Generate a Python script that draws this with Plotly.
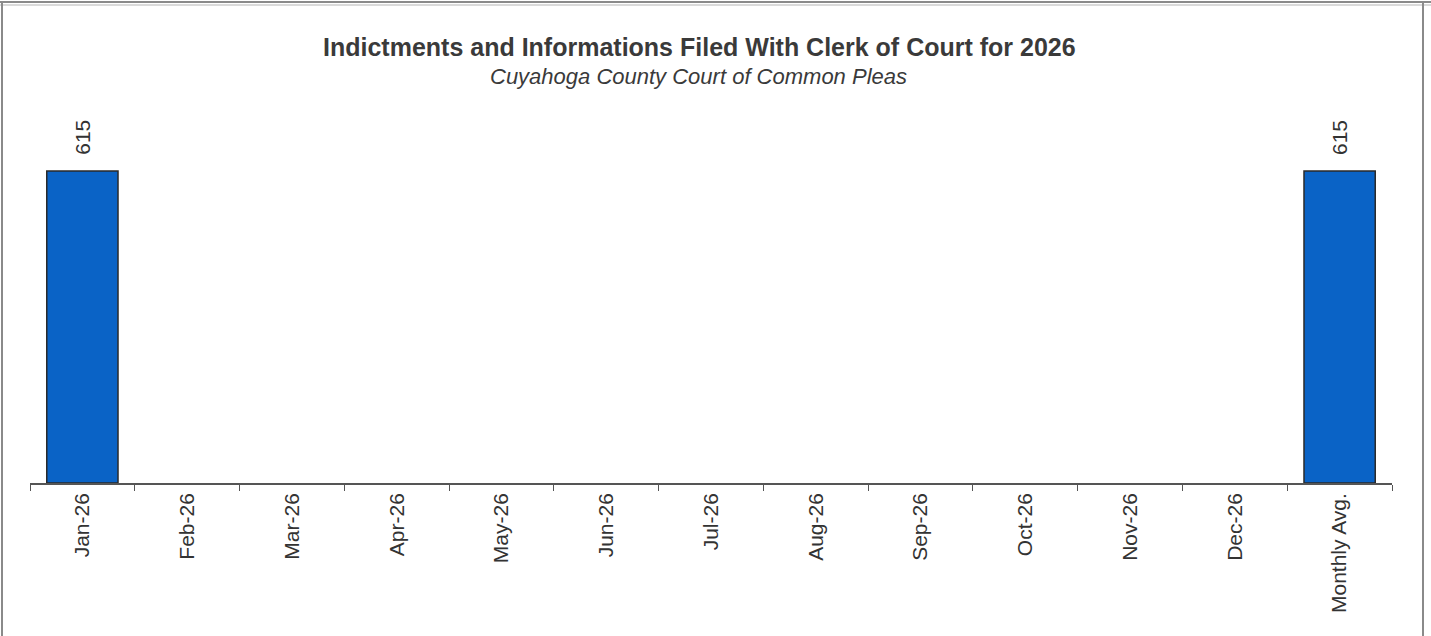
import plotly.graph_objects as go

categories = ["Jan-26", "Feb-26", "Mar-26", "Apr-26", "May-26", "Jun-26", "Jul-26",
              "Aug-26", "Sep-26", "Oct-26", "Nov-26", "Dec-26", "Monthly Avg."]
values = [615, None, None, None, None, None, None, None, None, None, None, None, 615]

title_text = "Indictments and Informations Filed With Clerk of Court for 2026"
subtitle_text = "Cuyahoga County Court of Common Pleas"

W, H = 1431, 636
ml, mr, mt, mb = 30, 39, 110, 153
pw = W - ml - mr
ph = H - mt - mb

def px_x(p):
    return (p - ml) / pw

def px_y(p):
    return (H - mb - p) / ph

FONT = "Liberation Sans, Arial"

fig = go.Figure()
fig.add_trace(go.Bar(
    x=categories, y=values,
    marker=dict(color="#0a63c6", line=dict(color="#2a2a2a", width=1.5)),
    hoverinfo="x+y",
))

for c, v in zip(categories, values):
    if v is not None:
        fig.add_annotation(x=c, y=v, text=str(v), showarrow=False, textangle=-90,
                           yanchor="bottom", yshift=14,
                           font=dict(family=FONT, size=21, color="#333333"))

fig.add_annotation(xref="paper", yref="paper", x=px_x(699), y=px_y(47), text=f"<b>{title_text}</b>",
                   showarrow=False, xanchor="center", yanchor="middle",
                   font=dict(family=FONT, size=25, color="#3a3a3a"))
fig.add_annotation(xref="paper", yref="paper", x=px_x(698), y=px_y(77), text=f"<i>{subtitle_text}</i>",
                   showarrow=False, xanchor="center", yanchor="middle",
                   font=dict(family=FONT, size=22, color="#3a3a3a"))

border = dict(color="#8a8a8a", width=2)
shapes = [
    dict(type="line", xref="paper", yref="paper", x0=px_x(0), x1=px_x(W), y0=px_y(2), y1=px_y(2), line=border),
    dict(type="line", xref="paper", yref="paper", x0=px_x(0), x1=px_x(W), y0=px_y(5), y1=px_y(5),
         line=dict(color="#b5b5b5", width=1)),
    dict(type="line", xref="paper", yref="paper", x0=px_x(2), x1=px_x(2), y0=px_y(2), y1=px_y(H), line=border),
    dict(type="line", xref="paper", yref="paper", x0=px_x(1423), x1=px_x(1423), y0=px_y(2), y1=px_y(H), line=border),
]

fig.update_layout(
    width=W, height=H,
    margin=dict(l=ml, r=mr, t=mt, b=mb, autoexpand=False),
    paper_bgcolor="white", plot_bgcolor="white",
    bargap=0.32,
    showlegend=False,
    shapes=shapes,
    xaxis=dict(
        type="category", tickangle=-90, tickson="boundaries", ticks="outside", ticklen=6,
        tickcolor="#555555", showline=True, linecolor="#555555", linewidth=1.5,
        showgrid=False, tickfont=dict(family=FONT, size=21, color="#333333"),
        fixedrange=True,
    ),
    yaxis=dict(range=[0, 735], visible=False, showgrid=False, zeroline=False, fixedrange=True),
)

fig.write_html("out.html",
               config={"displayModeBar": False},
               post_script="document.body.style.margin='0';document.body.style.overflow='hidden';")
